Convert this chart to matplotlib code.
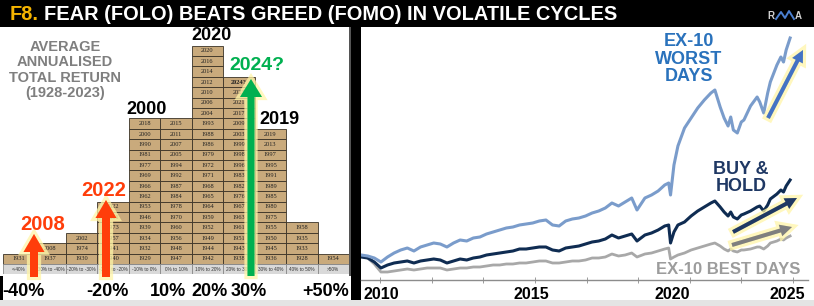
import numpy as np
import matplotlib
matplotlib.use('Agg')
import matplotlib.pyplot as plt
import matplotlib.patches as mpatches
import matplotlib.patheffects as pe

W, H, DPI = 814, 306, 100
plt.rcParams['font.family'] = ['Liberation Sans', 'DejaVu Sans']

# ---------------- left panel data: calendar-year returns histogram ----------------
bucket_labels = ['<-40%', '-30% to -40%', '-20% to -30%', '-10% to -20%', '-10% to 0%',
                 '0% to 10%', '10% to 20%', '20% to 30%', '30% to 40%', '40% to 50%', '>50%']
years_lt_m40 = ['1931']
years_m40_m30 = ['1937', '2008']
years_m30_m20 = ['1930', '1974', '2002']
years_m20_m10 = ['1940', '1941', '1957', '1973', '2001', '2022']
years_m10_0 = ['1929', '1932', '1934', '1939', '1946', '1953', '1962', '1966', '1969', '1977',
               '1981', '1990', '2000', '2018']
years_0_10 = ['1947', '1948', '1956', '1960', '1970', '1978', '1984', '1987', '1992', '1994',
              '2005', '2007', '2011', '2015']
years_10_20 = ['1942', '1944', '1949', '1952', '1959', '1964', '1965', '1968', '1971', '1972',
               '1979', '1986', '1988', '1993', '2004', '2006', '2010', '2012', '2014', '2016', '2020']
years_20_30 = ['1938', '1943', '1951', '1961', '1963', '1967', '1976', '1982', '1983', '1996',
               '1998', '1999', '2003', '2009', '2017', '2021', '2023', '2024?']
years_30_40 = ['1936', '1945', '1950', '1955', '1975', '1980', '1985', '1989', '1991', '1995',
               '1997', '2013', '2019']
years_40_50 = ['1928', '1933', '1935', '1958']
years_gt_50 = ['1954']
columns = [years_lt_m40, years_m40_m30, years_m30_m20, years_m20_m10, years_m10_0, years_0_10,
           years_10_20, years_20_30, years_30_40, years_40_50, years_gt_50]
bottom_labels = ['-40%', '-20%', '10%', '20%', '30%', '+50%']

# ---------------- right panel data: growth of 100 ----------------
perf_dates = [2008.50, 2008.75, 2009.00, 2009.25, 2009.50, 2009.75,
              2010.00, 2010.25, 2010.50, 2010.75, 2011.00, 2011.25, 2011.50, 2011.75,
              2012.00, 2012.25, 2012.50, 2012.75, 2013.00, 2013.25, 2013.50, 2013.75,
              2014.00, 2014.25, 2014.50, 2014.75, 2015.00, 2015.25, 2015.50, 2015.75,
              2016.00, 2016.25, 2016.50, 2016.75, 2017.00, 2017.25, 2017.50, 2017.75,
              2018.00, 2018.25, 2018.50, 2018.75, 2018.95, 2019.25, 2019.50, 2019.75,
              2020.00, 2020.15, 2020.22, 2020.35, 2020.50, 2020.75, 2021.00, 2021.25,
              2021.50, 2021.75, 2021.90, 2022.10, 2022.25, 2022.40, 2022.50, 2022.60,
              2022.75, 2022.90, 2023.00, 2023.25, 2023.50, 2023.60, 2023.75, 2023.90,
              2024.00, 2024.25, 2024.40, 2024.50, 2024.60, 2024.75]
ex10_worst = [102, 101, 99, 95, 100, 104,
              107, 109, 106, 110, 112, 114, 113, 110,
              114, 117, 116, 119, 120, 123, 125, 127,
              129, 130, 132, 133, 134, 136, 137, 132,
              131, 136, 138, 139, 141, 144, 146, 149,
              154, 151, 155, 159, 147, 159, 162, 166,
              172, 174, 162, 192, 211, 229, 239, 249,
              257, 264, 267, 250, 239, 231, 240, 227,
              224, 235, 237, 251, 260, 255, 244, 264,
              275, 292, 300, 295, 307, 319]
buy_hold = [100, 99, 95, 89, 92, 94,
            95, 96, 94, 96, 97, 98, 97, 94,
            96, 98, 97, 99, 100, 102, 103, 104,
            105, 106, 108, 108, 109, 110, 110, 107,
            106, 109, 110, 111, 113, 115, 116, 118,
            122, 119, 121, 123, 116, 122, 124, 127,
            131, 132, 114, 125, 132, 135, 141, 146,
            150, 154, 156, 150, 145, 141, 145, 140,
            138, 142, 143, 146, 150, 151, 146, 152,
            158, 163, 167, 165, 171, 177]
ex10_best = [101, 99, 93, 85, 85, 86,
             87, 88, 87, 88, 89, 89, 89, 87,
             88, 89, 89, 90, 90, 91, 92, 92,
             93, 93, 94, 94, 95, 96, 96, 94,
             94, 95, 96, 96, 97, 99, 99, 100,
             103, 101, 102, 104, 100, 103, 104, 106,
             108, 109, 98, 100, 102, 104, 107, 109,
             111, 113, 114, 111, 108, 106, 108, 106,
             105, 107, 107, 108, 110, 110, 108, 111,
             114, 116, 118, 117, 119, 121]
year_tick_labels = ['2010', '2015', '2020', '2025']
year_tick_pos = [2009.26, 2014.94, 2020.28, 2024.64]

# ---------------- colours ----------------
TAN = '#C9AA7C'
EDGE = '#3a3226'
HDR = '#D9D9D9'
RED = '#FF3D0A'
GREEN = '#00B050'
GLOW = '#FFF5A8'
C_WORST = '#7A9CCB'
C_BH = '#0F2C52'
C_BEST = '#A8A8A8'

fig = plt.figure(figsize=(W / DPI, H / DPI), dpi=DPI, facecolor='white')


def frac(x0, y0, x1, y1):
    return [x0 / W, 1 - y1 / H, (x1 - x0) / W, (y1 - y0) / H]


# background decorations (pixel coordinates)
ax_bg = fig.add_axes([0, 0, 1, 1], zorder=0)
ax_bg.set_xlim(0, W); ax_bg.set_ylim(H, 0); ax_bg.axis('off')
ax_bg.add_patch(mpatches.Rectangle((0, 0), W, 27, color='black', lw=0))
ax_bg.add_patch(mpatches.Rectangle((349, 27), 2, 249, color='#555555', lw=0))
ax_bg.add_patch(mpatches.Rectangle((351, 27), 10, 273, color='black', lw=0))
ax_bg.add_patch(mpatches.Rectangle((0, 276), 3, 24, color='black', lw=0))
ax_bg.add_patch(mpatches.Rectangle((0, 300), W, 6, color='#E4E4E4', lw=0))

# ---------------- grid (histogram of years) ----------------
n_rows = max(len(c) for c in columns)
ax_g = fig.add_axes(frac(3, 264 - n_rows * 10.4, 349, 274.4), zorder=1)
ax_g.set_xlim(0, len(columns)); ax_g.set_ylim(-1, n_rows)
ax_g.axis('off'); ax_g.patch.set_alpha(0)
for ci, col in enumerate(columns):
    rows = np.arange(len(col))
    ax_g.bar(np.full(len(col), ci + 0.5), 1, bottom=rows, width=1, color=TAN,
             edgecolor=EDGE, linewidth=0.6)
    for ri, yr in enumerate(col):
        ax_g.text(ci + 0.5, ri + 0.5, yr, ha='center', va='center', fontsize=4.6,
                  family='Liberation Serif', color='#222222',
                  fontweight='bold' if yr.endswith('?') else 'normal')
ax_g.bar(np.arange(len(bucket_labels)) + 0.5, 1, bottom=-1, width=1, color=HDR,
         edgecolor='#8a8a8a', linewidth=0.6)
for ci, lab in enumerate(bucket_labels):
    ax_g.text(ci + 0.5, -0.5, lab, ha='center', va='center', fontsize=3.4, color='#333333')

# ---------------- right chart ----------------
PX_PER_YR = 26.4


def yr_at(px):
    return 2020.2 + (px - 670) / PX_PER_YR


ax_r = fig.add_axes(frac(361, 27, 814, 280), zorder=1)
ax_r.plot(perf_dates, ex10_best, color=C_BEST, lw=2.0, solid_joinstyle='round')
ax_r.plot(perf_dates, buy_hold, color=C_BH, lw=2.2, solid_joinstyle='round')
ax_r.plot(perf_dates, ex10_worst, color=C_WORST, lw=2.2, solid_joinstyle='round')
ax_r.set_xlim(yr_at(361), yr_at(814))
ax_r.set_ylim(357 - 280, 357 - 27)
for s in ['top', 'right', 'left']:
    ax_r.spines[s].set_visible(False)
ax_r.spines['bottom'].set_color('#8c8c8c')
ax_r.spines['bottom'].set_linewidth(1.0)
ax_r.spines['bottom'].set_bounds(yr_at(361), yr_at(808))
ax_r.set_yticks([])
ax_r.set_xticks(year_tick_pos)
ax_r.set_xticklabels(year_tick_labels, fontsize=11.5, fontweight='bold', color='black')
ax_r.tick_params(axis='x', which='major', length=0, pad=5)
ax_r.set_xticks(np.arange(2009.22, 2025.0, 1.955), minor=True)
ax_r.tick_params(axis='x', which='minor', length=4, direction='inout', color='#8c8c8c')

# ---------------- overlay: texts and arrows (pixel coordinates) ----------------
ax_o = fig.add_axes([0, 0, 1, 1], zorder=3)
ax_o.set_xlim(0, W); ax_o.set_ylim(H, 0); ax_o.axis('off'); ax_o.patch.set_alpha(0)

ax_o.text(10, 14, 'F8.', color='#F5B400', fontsize=14.4, fontweight='bold', va='center')
ax_o.text(44, 14, 'FEAR (FOLO) BEATS GREED (FOMO) IN VOLATILE CYCLES', color='white',
          fontsize=14.4, fontweight='bold', va='center')
# logo
ax_o.text(771, 16, 'R', color='#d0d0d0', fontsize=7, fontweight='bold', ha='center', va='center')
ax_o.plot([776, 781, 785, 789, 794], [19, 12, 18, 11, 19], color='#4A7FD0', lw=1.4)
ax_o.text(798, 16, 'A', color='#d0d0d0', fontsize=7, fontweight='bold', ha='center', va='center')

ax_o.text(65, 70, 'AVERAGE\nANNUALISED\nTOTAL RETURN\n(1928-2023)', color='#7f7f7f',
          fontsize=10.5, fontweight='bold', ha='center', va='center', linespacing=1.15)

glow = [pe.withStroke(linewidth=4.5, foreground=GLOW, alpha=0.75)]


def up_arrow(x, y0, y1, color, w, hw, hl):
    a = mpatches.FancyArrow(x, y0, 0, y1 - y0, width=w, head_width=hw, head_length=hl,
                            length_includes_head=True, color=color, lw=0)
    a.set_path_effects(glow)
    ax_o.add_patch(a)


def arrow(x0, y0, x1, y1, color):
    a = mpatches.FancyArrow(x0, y0, x1 - x0, y1 - y0, width=4, head_width=12, head_length=12,
                            length_includes_head=True, color=color, lw=0)
    a.set_path_effects(glow)
    ax_o.add_patch(a)


up_arrow(34, 277, 234, RED, 8, 21, 18)
up_arrow(106, 277, 200, RED, 8, 21, 18)
up_arrow(251, 276, 79, GREEN, 7, 22, 18)

ax_o.text(43, 224, '2008', color=RED, fontsize=14.5, fontweight='bold', ha='center', va='center')
ax_o.text(104, 190, '2022', color=RED, fontsize=14.5, fontweight='bold', ha='center', va='center')
ax_o.text(147, 110, '2000', color='black', fontsize=13, fontweight='bold', ha='center', va='center')
ax_o.text(211, 35, '2020', color='black', fontsize=13, fontweight='bold', ha='center', va='center')
ax_o.text(279, 119, '2019', color='black', fontsize=13, fontweight='bold', ha='center', va='center')
ax_o.text(257, 66, '2024?', color=GREEN, fontsize=14, fontweight='bold', ha='center', va='center')

for lab, xc in zip(bottom_labels, [23, 107, 168, 209, 249, 326]):
    ax_o.text(xc, 291, lab, color='black', fontsize=13, fontweight='bold', ha='center', va='center')

# right chart annotations
ax_o.text(689, 59, 'EX-10\nWORST\nDAYS', color='#2A72BC', fontsize=13, fontweight='bold',
          ha='center', va='center', linespacing=1.05)
ax_o.text(741, 178, 'BUY &\nHOLD', color='#1F3864', fontsize=13, fontweight='bold',
          ha='center', va='center', linespacing=1.05)
ax_o.text(728, 269, 'EX-10 BEST DAYS', color='#9C9C9C', fontsize=12, fontweight='bold',
          ha='center', va='center')
arrow(768, 118, 803, 50, '#4472C4')
arrow(733, 232, 797, 198, '#1F3864')
arrow(732, 245, 792, 227, '#7F7F7F')

fig.savefig('out.png', dpi=DPI, facecolor='white')
